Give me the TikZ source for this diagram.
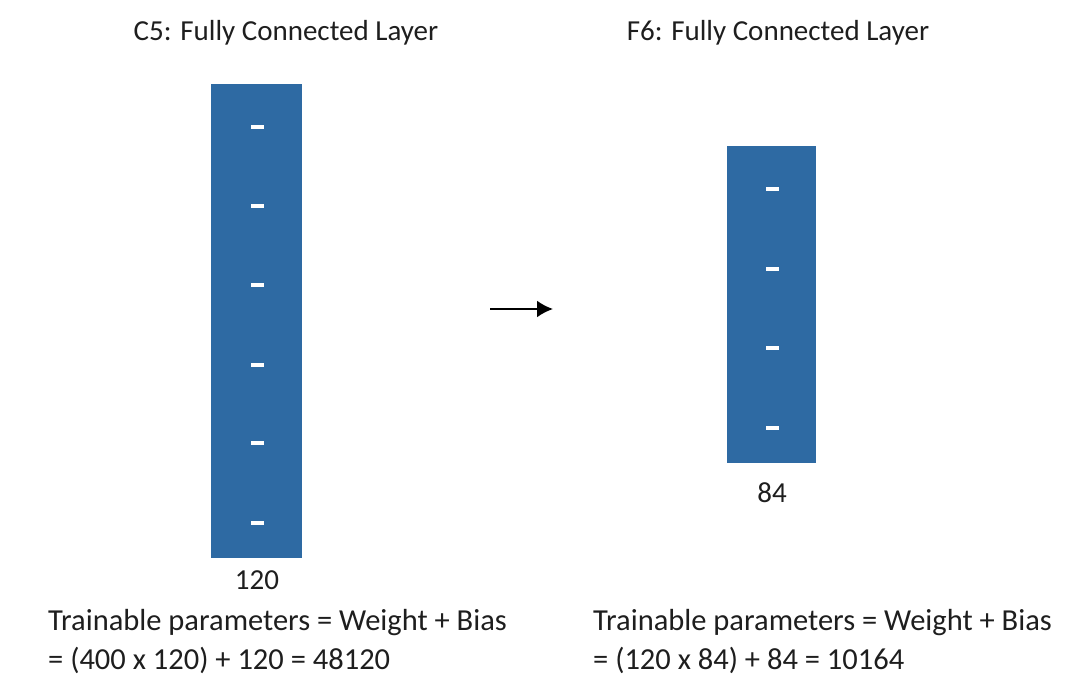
\documentclass[tikz,border=0pt]{standalone}
\usepackage{fontspec}
\setmainfont{Carlito}
\usetikzlibrary{arrows.meta}
\definecolor{layerblue}{RGB}{46,106,163}
\definecolor{txt}{RGB}{30,30,30}
\tikzset{
  layer/.style={fill=layerblue, draw=none, inner sep=0pt, anchor=north west},
  tick/.style={fill=white, draw=none, minimum width=13pt, minimum height=3.5pt, inner sep=0pt},
  lbl/.style={text=txt, font=\fontsize{29}{34}\selectfont, inner sep=0pt},
  para/.style={text=txt, font=\fontsize{30.5}{36}\selectfont, inner sep=0pt, anchor=west, align=left}
}
\begin{document}
\begin{tikzpicture}[x=1pt,y=-1pt]
\useasboundingbox (0,0) rectangle (1088,700);
% layers
\node[layer, minimum width=91pt, minimum height=474pt] (c5) at (211,84) {};
\node[layer, minimum width=89pt, minimum height=317pt] (f6) at (727,146) {};
% ticks
\foreach \y [count=\i] in {127,206,285,365,443,523} \node[tick] (c5t\i) at (257,\y) {};
\foreach \y [count=\i] in {189,269,348,428} \node[tick] (f6t\i) at (772,\y) {};
% titles
\node[lbl] (c5title) at (286,33) {C5: Fully Connected Layer};
\node[lbl] (f6title) at (778,33) {F6: Fully Connected Layer};
% sizes
\node[lbl] (c5n) at (257,580) {120};
\node[lbl] (f6n) at (772,493) {84};
% arrow
\coordinate (a1) at (490,309);
\coordinate (a2) at (553,309);
\draw[line width=2.2pt, -{Latex[length=16pt,width=17pt]}] (a1) -- (a2);
% parameters
\node[para] (c5p1) at (48,623) {Trainable parameters = Weight + Bias};
\node[para] (c5p2) at (48,660) {= (400 x 120) + 120 = 48120};
\node[para] (f6p1) at (593,623) {Trainable parameters = Weight + Bias};
\node[para] (f6p2) at (593,660) {= (120 x 84) + 84 = 10164};
\end{tikzpicture}
\end{document}
